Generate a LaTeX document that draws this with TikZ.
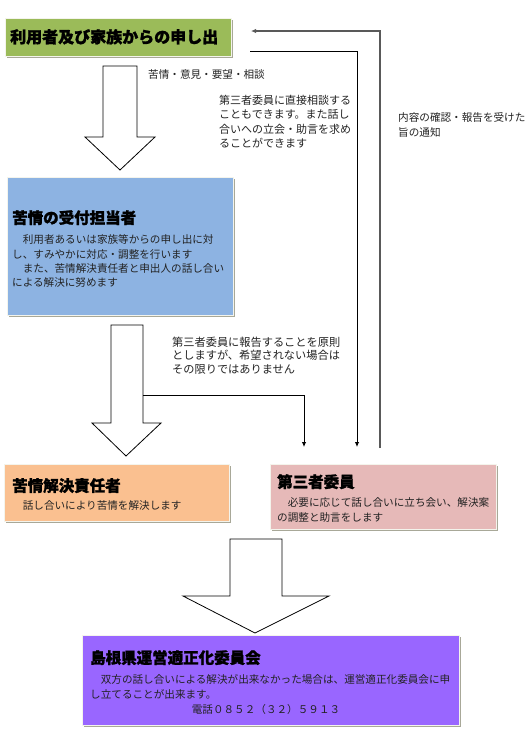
\documentclass[tikz,border=0pt]{standalone}
\usepackage{fontspec}
\newfontfamily\jp{Noto Sans CJK JP}
\newfontfamily\jph[BoldFeatures={FakeBold=1.5}]{Noto Sans CJK JP}
\usetikzlibrary{arrows.meta,shadows}
\definecolor{cgreen}{HTML}{9BBB59}
\definecolor{cblue}{HTML}{8DB3E2}
\definecolor{corange}{HTML}{FAC090}
\definecolor{cpink}{HTML}{E6B9B8}
\definecolor{cpurple}{HTML}{9966FF}
\definecolor{cedge}{HTML}{F4F4EC}
\definecolor{cshadow}{HTML}{A8A898}
\definecolor{ctext}{HTML}{222222}
\tikzset{
  panel/.style={draw=cedge, line width=1.3pt, inner sep=0pt, anchor=north west,
    drop shadow={shadow xshift=1.6pt, shadow yshift=-1.6pt, fill=cshadow, opacity=1}},
  title/.style={inner sep=0pt, anchor=north west, font=\jph\bfseries\fontsize{15.5}{18}\selectfont, text=black},
  body/.style={inner sep=0pt, anchor=north west, align=left, font=\jp\fontsize{10.6}{14.4}\selectfont, text=ctext},
  note/.style={inner sep=0pt, anchor=north west, align=left, font=\jp\fontsize{10.6}{14.4}\selectfont, text=ctext},
  hollow/.style={draw=black, line width=0.8pt, fill=white, line join=miter},
  conn/.style={draw=black, line width=0.9pt, -{Latex[length=5pt,width=4.5pt]}},
  connback/.style={draw=black!65, line width=1.3pt, -{Latex[length=5pt,width=4.5pt]}}
}
\begin{document}
\begin{tikzpicture}[x=1pt,y=-1pt]
\useasboundingbox[fill=white] (0,0) rectangle (530,729);

% panels
\node[panel, fill=cgreen, minimum width=226pt, minimum height=38pt] (src) at (5,18) {};
\node[panel, fill=cblue, minimum width=226pt, minimum height=138pt] (recv) at (7,177) {};
\node[panel, fill=corange, minimum width=225pt, minimum height=57pt] (resp) at (4,464) {};
\node[panel, fill=cpink, minimum width=226pt, minimum height=65pt] (third) at (270,464) {};
\node[panel, fill=cpurple, minimum width=377pt, minimum height=90pt] (pref) at (82,635) {};

% hollow block arrows
\draw[hollow] (103,66) -- (137,66) -- (137,137) -- (155,137) -- (120,170) -- (85,137) -- (103,137) -- cycle;
\draw[hollow] (111,325) -- (143,325) -- (143,423) -- (161,423) -- (126,456) -- (92,423) -- (111,423) -- cycle;
\draw[hollow] (230,539) -- (282,539) -- (282,596) -- (329,596) -- (255,633) -- (183,596) -- (230,596) -- cycle;

% titles
\node[title, font=\jph\bfseries\fontsize{16}{18}\selectfont] (tsrc) at (10,29) {利用者及び家族からの申し出};
\node[title] (trecv) at (12,210) {苦情の受付担当者};
\node[title] (tresp) at (12,478) {苦情解決責任者};
\node[title] (tthird) at (277,474) {第三者委員};
\node[title] (tpref) at (90,650) {島根県運営適正化委員会};

% bodies
\node[body] (brecv) at (12,234.5) {　利用者あるいは家族等からの申し出に対\\し、すみやかに対応・調整を行います\\　また、苦情解決責任者と申出人の話し合い\\による解決に努めます};
\node[body] (bresp) at (12,500.5) {　話し合いにより苦情を解決します};
\node[body] (bthird) at (277,497.5) {　必要に応じて話し合いに立ち会い、解決案\\の調整と助言をします};
\node[body] (bpref) at (90,674.5) {　双方の話し合いによる解決が出来なかった場合は、運営適正化委員会に申\\し立てることが出来ます。};
\node[body, anchor=north] (phone) at (266,704.5) {電話０８５２（３２）５９１３};

% notes
\node[note] (n1) at (148,69.5) {苦情・意見・要望・相談};
\node[note, font=\jp\fontsize{11}{14.5}\selectfont] (n2) at (219,94.5) {第三者委員に直接相談する\\こともできます。また話し\\合いへの立会・助言を求め\\ることができます};
\node[note] (n3) at (398,112.5) {内容の確認・報告を受けた\\旨の通知};
\node[note, font=\jp\fontsize{11.2}{13.6}\selectfont] (n4) at (172,336.5) {第三者委員に報告することを原則\\としますが、希望されない場合は\\その限りではありません};

% connector coordinates
\coordinate (a1s) at (250,51);
\coordinate (a1e) at (357,447);
\coordinate (a2s) at (380,448);
\coordinate (a2e) at (251,31);
\coordinate (a3s) at (143,395);
\coordinate (a3e) at (304,447);

\draw[conn] (a1s) -| (a1e);
\draw[connback] (a2s) |- (a2e);
\draw[conn] (a3s) -| (a3e);
\end{tikzpicture}
\end{document}
